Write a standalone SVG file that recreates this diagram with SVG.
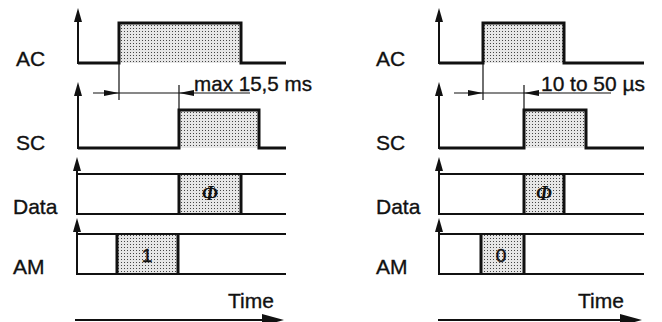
<svg xmlns="http://www.w3.org/2000/svg" width="662" height="322" viewBox="0 0 662 322">
<style>
  .lbl { font-family: "Liberation Sans", Arial, sans-serif; font-size: 21px; fill: #111; stroke: #111; stroke-width: 0.35; }
  .sig { fill: none; stroke: #111; stroke-width: 3; stroke-linejoin: miter; }
  .axis { fill: none; stroke: #111; stroke-width: 2; }
  .rail { fill: none; stroke: #111; stroke-width: 2; }
  .edge { fill: none; stroke: #111; stroke-width: 3; }
  .dim { fill: none; stroke: #111; stroke-width: 1.2; }
  .head { fill: #111; stroke: none; }
  .shade { fill: url(#dots); stroke: none; }
  .val { font-family: "Liberation Sans", Arial, sans-serif; font-size: 19px; fill: #111; stroke: #111; stroke-width: 0.5; text-anchor: middle; }
  .phi { font-family: "Liberation Serif", "Times New Roman", serif; font-size: 20px; font-weight: bold; font-style: italic; fill: #111; text-anchor: middle; }
</style>
<defs>
  <pattern id="dots" width="3" height="3" patternUnits="userSpaceOnUse">
    <rect width="3" height="3" fill="#e6e6e6"/>
    <rect x="1" y="1" width="1" height="1" fill="#444"/>
  </pattern>
</defs>
<rect width="662" height="322" fill="#fff"/>

<!-- LEFT PANEL -->
<g id="left-AC">
  <text class="lbl" x="16" y="66">AC</text>
  <path class="axis" d="M78,64 V18"/>
  <path class="head" d="M74,22 L78,8 L82,22 Z"/>
  <rect class="shade" x="119" y="23" width="122" height="40"/>
  <path class="sig" d="M78,63 H119 V23 H241 V63 H286"/>
</g>
<g id="left-SC">
  <text class="lbl" x="16" y="150">SC</text>
  <path class="axis" d="M78,149 V92"/>
  <path class="head" d="M74,96 L78,82 L82,96 Z"/>
  <rect class="shade" x="179" y="110" width="80" height="38"/>
  <path class="sig" d="M78,148 H179 V110 H259 V148 H286"/>
</g>
<g id="left-Data">
  <text class="lbl" x="13" y="214">Data</text>
  <path class="axis" d="M77,215 V167"/>
  <path class="head" d="M73,171 L77,157 L81,171 Z"/>
  <rect class="shade" x="179" y="174" width="62" height="40"/>
  <path class="rail" d="M77,174 H286 M77,214 H286"/>
  <path class="edge" d="M179,174 V214 M241,174 V214"/>
  <text class="phi" x="210" y="200">Φ</text>
</g>
<g id="left-AM">
  <text class="lbl" x="13" y="274">AM</text>
  <path class="axis" d="M77,275 V228"/>
  <path class="head" d="M73,232 L77,218 L81,232 Z"/>
  <rect class="shade" x="117" y="234" width="61" height="40"/>
  <path class="rail" d="M77,234 H286 M77,274 H286"/>
  <path class="edge" d="M117,234 V274 M178,234 V274"/>
  <text class="val" x="147" y="262">1</text>
</g>
<g id="left-Time">
  <text class="lbl" x="228" y="308">Time</text>
  <path class="axis" d="M75,320 H266"/>
  <path class="head" d="M262,314 L284,320 L262,326 Z"/>
</g>

<!-- RIGHT PANEL -->
<g id="right-AC">
  <text class="lbl" x="376" y="66">AC</text>
  <path class="axis" d="M439,64 V18"/>
  <path class="head" d="M435,22 L439,8 L443,22 Z"/>
  <rect class="shade" x="483" y="23" width="81" height="40"/>
  <path class="sig" d="M439,63 H483 V23 H564 V63 H644"/>
</g>
<g id="right-SC">
  <text class="lbl" x="376" y="150">SC</text>
  <path class="axis" d="M439,149 V92"/>
  <path class="head" d="M435,96 L439,82 L443,96 Z"/>
  <rect class="shade" x="524" y="110" width="62" height="38"/>
  <path class="sig" d="M439,148 H524 V110 H586 V148 H644"/>
</g>
<g id="right-Data">
  <text class="lbl" x="376" y="214">Data</text>
  <path class="axis" d="M439,215 V167"/>
  <path class="head" d="M435,171 L439,157 L443,171 Z"/>
  <rect class="shade" x="524" y="174" width="40" height="40"/>
  <path class="rail" d="M439,174 H644 M439,214 H644"/>
  <path class="edge" d="M524,174 V214 M564,174 V214"/>
  <text class="phi" x="544" y="200">Φ</text>
</g>
<g id="right-AM">
  <text class="lbl" x="376" y="274">AM</text>
  <path class="axis" d="M439,275 V228"/>
  <path class="head" d="M435,232 L439,218 L443,232 Z"/>
  <rect class="shade" x="481" y="234" width="43" height="40"/>
  <path class="rail" d="M439,234 H644 M439,274 H644"/>
  <path class="edge" d="M481,234 V274 M524,234 V274"/>
  <text class="val" x="501" y="262">0</text>
</g>
<g id="right-Time">
  <text class="lbl" x="578" y="308">Time</text>
  <path class="axis" d="M438,320 H624"/>
  <path class="head" d="M620,314 L642,320 L620,326 Z"/>
</g>

<!-- CONNECTORS: dimension lines -->
<g id="connectors">
  <path class="dim" d="M119,63 V100 M179,85 V110 M93,93 H250"/>
  <path class="head" d="M104,90 L119,93 L104,96 Z"/>
  <path class="head" d="M194,90 L179,93 L194,96 Z"/>
  <text class="lbl" x="194" y="91" textLength="118" lengthAdjust="spacingAndGlyphs">max 15,5 ms</text>

  <path class="dim" d="M483,63 V100 M524,85 V110 M454,93 H611"/>
  <path class="head" d="M468,90 L483,93 L468,96 Z"/>
  <path class="head" d="M539,90 L524,93 L539,96 Z"/>
  <text class="lbl" x="541" y="91" textLength="104" lengthAdjust="spacingAndGlyphs">10 to 50 µs</text>
</g>
</svg>
